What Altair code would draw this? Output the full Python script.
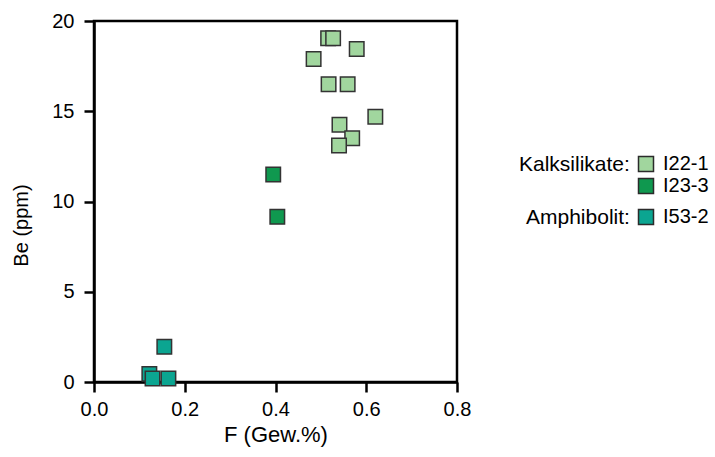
import altair as alt
import pandas as pd

# Kalksilikate samples
i22_f = [0.516, 0.527, 0.579, 0.484, 0.517, 0.559, 0.620, 0.541, 0.569, 0.540]
i22_be = [19.05, 19.05, 18.45, 17.9, 16.5, 16.5, 14.7, 14.25, 13.5, 13.1]
i23_f = [0.395, 0.404]
i23_be = [11.5, 9.15]
# Amphibolit samples
i53_f = [0.122, 0.129, 0.164, 0.155]
i53_be = [0.45, 0.2, 0.2, 1.95]

kalk = pd.DataFrame({
    "F": i22_f + i23_f,
    "Be": i22_be + i23_be,
    "Probe": ["I22-1"] * len(i22_f) + ["I23-3"] * len(i23_f),
})
amph = pd.DataFrame({"F": i53_f, "Be": i53_be, "Probe": ["I53-2"] * len(i53_f)})

FONT = "Liberation Sans"
x_enc = alt.X("F:Q", title="F (Gew.%)",
              scale=alt.Scale(domain=[0, 0.8], nice=False, zero=True),
              axis=alt.Axis(values=[0, 0.2, 0.4, 0.6, 0.8], format=".1f",
                            labelFlush=False, titleFontSize=22, titlePadding=5))
y_enc = alt.Y("Be:Q", title="Be (ppm)",
              scale=alt.Scale(domain=[0, 20], nice=False),
              axis=alt.Axis(values=[0, 5, 10, 15, 20], format="d", labelFlush=False,
                            titleY=204, titleFontSize=20, titlePadding=20, labelPadding=10))

def legend(title, x, y):
    return alt.Legend(
        title=title, orient="none", legendX=x, legendY=y, titleOrient="left",
        titleFontSize=21, titleFont=FONT, titleFontWeight="normal", titleColor="black",
        titlePadding=6, titleBaseline="top", titleAnchor="start",
        labelFontSize=20, labelFont=FONT, labelColor="black", labelOffset=7,
        symbolType="square", symbolSize=225, symbolStrokeColor="#2b2b2b",
        symbolStrokeWidth=1.5, symbolOpacity=1, rowPadding=0, padding=0,
    )

pts_kalk = alt.Chart(kalk).mark_point(
    shape="square", filled=True, size=210, stroke="#333333", strokeWidth=1.5, opacity=1
).encode(
    x=x_enc, y=y_enc,
    color=alt.Color("Probe:N",
                    scale=alt.Scale(domain=["I22-1", "I23-3"], range=["#a1d69e", "#0f984f"]),
                    legend=legend("Kalksilikate:", 425, 133)),
)

pts_amph = alt.Chart(amph).mark_point(
    shape="square", filled=True, size=210, stroke="#333333", strokeWidth=1.5, opacity=1
).encode(
    x=x_enc, y=y_enc,
    color=alt.Color("Probe:N",
                    scale=alt.Scale(domain=["I53-2"], range=["#0ba591"]),
                    legend=legend("Amphibolit:", 432, 186)),
)

chart = alt.layer(pts_kalk, pts_amph).resolve_scale(color="independent").properties(
    width=363, height=361,
    autosize=alt.AutoSizeParams(type="none"),
    padding={"left": 94, "top": 21, "right": 258, "bottom": 75},
).configure_view(
    stroke="black", strokeWidth=2.5
).configure_axis(
    grid=False, domainColor="black", domainWidth=2.5, tickColor="black", tickWidth=2.5,
    tickSize=10, labelFont=FONT, labelFontSize=20, labelColor="black", labelPadding=7,
    titleFont=FONT, titleFontWeight="normal", titleColor="black",
)

chart.save("out.html", embed_options={"renderer": "svg", "actions": False})
